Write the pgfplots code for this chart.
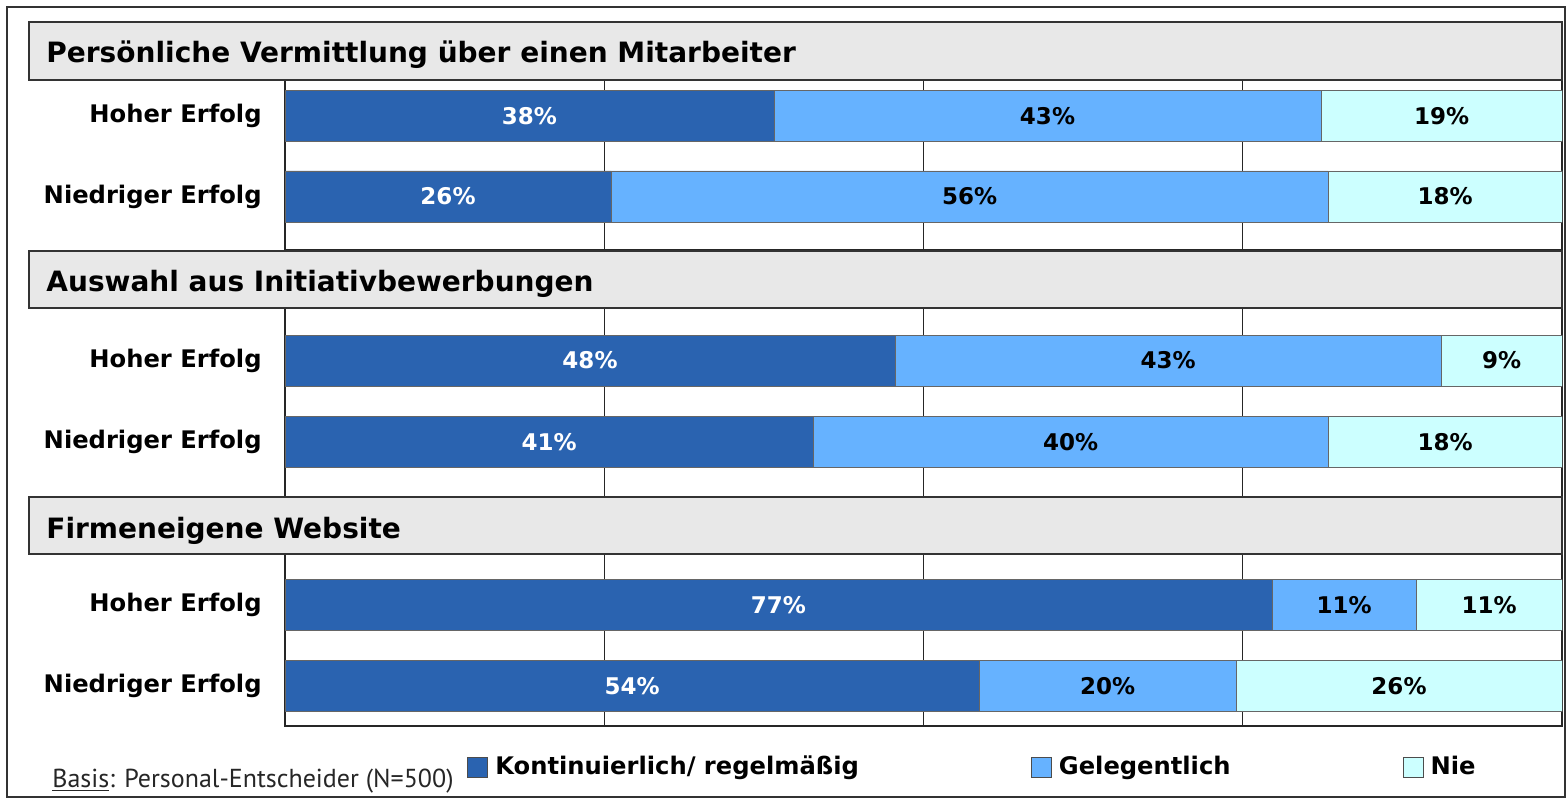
\documentclass[border=0pt]{standalone}
\usepackage{fontspec}
\setmainfont{DejaVu Sans}
\newfontfamily\basisfont{PT Sans}
\usepackage{pgfplots}
\pgfplotsset{compat=1.18}
\definecolor{cDark}{HTML}{2A63B0}
\definecolor{cMid}{HTML}{66B2FF}
\definecolor{cLight}{HTML}{CCFFFF}
\definecolor{cHead}{HTML}{E8E8E8}
\newcommand{\lblfont}{\fontsize{12.1}{15}\selectfont\bfseries}
\newcommand{\legfont}{\fontsize{12.1}{15}\selectfont\bfseries}
\pgfplotsset{grp/.style={
  xbar stacked, scale only axis, width=638.5pt, anchor=north west,
  xmin=0, xmax=100, enlargelimits=false,
  xtick={25,50,75}, xticklabels={}, xmajorgrids,
  grid style={black!85, line width=0.6pt},
  major tick length=0pt,
  axis line style={black!85, line width=0.6pt},
  bar width=51,
  yticklabels={Hoher Erfolg,Niedriger Erfolg},
  yticklabel style={font=\lblfont, inner sep=0pt, xshift=-11.5pt},
  every axis plot/.append style={draw=black!60, line width=0.4pt},
  visualization depends on=rawx \as \rawx,
  nodes near coords={\pgfmathprintnumber[fixed,precision=0,assume math mode=true]{\rawx}\%},
  every node near coord/.append style={anchor=center, font=\fontsize{11.5}{14}\selectfont\bfseries},
}}
\begin{document}
\begin{tikzpicture}
\useasboundingbox (0,0) rectangle (783.5pt,-401pt);
\draw[black!80, line width=0.8pt] (3.5pt,-3.5pt) rectangle (782.5pt,-398.5pt);

% Group 1
\begin{axis}[grp, at={(142.5pt,-40pt)}, height=85pt, ymin=-250, ymax=-80, ytick={-116,-196.5}]
\addplot[fill=cDark, every node near coord/.append style={text=white}] coordinates {(38.29,-116) (25.53,-196.5)};
\addplot[fill=cMid] coordinates {(42.84,-116) (56.15,-196.5)};
\addplot[fill=cLight] coordinates {(18.87,-116) (18.32,-196.5)};
\end{axis}

% Group 2
\begin{axis}[grp, at={(142.5pt,-154pt)}, height=94.5pt, ymin=-497, ymax=-308, ytick={-360.5,-442}]
\addplot[fill=cDark, every node near coord/.append style={text=white}] coordinates {(47.77,-360.5) (41.35,-442)};
\addplot[fill=cMid] coordinates {(42.76,-360.5) (40.33,-442)};
\addplot[fill=cLight] coordinates {(9.47,-360.5) (18.32,-442)};
\end{axis}

% Group 3
\begin{axis}[grp, at={(142.5pt,-277pt)}, height=86pt, ymin=-726, ymax=-554, ytick={-605,-686},
  legend columns=3,
  legend image code/.code={\draw[#1,draw=black!70,line width=0.5pt] (0pt,-5pt) rectangle (10pt,5pt);},
  legend style={at={(rel axis cs:0,0)}, anchor=west, xshift=91pt, yshift=-20.5pt,
    draw=none, fill=none, inner sep=0pt, font=\legfont,
    nodes={inner sep=0pt},
    /tikz/every odd column/.append style={column sep=3.5pt},
    /tikz/every even column/.append style={column sep=86pt}}]
\addplot[fill=cDark, every node near coord/.append style={text=white}] coordinates {(77.29,-605) (54.35,-686)};
\addplot[fill=cMid] coordinates {(11.28,-605) (20.12,-686)};
\addplot[fill=cLight] coordinates {(11.43,-605) (25.53,-686)};
\legend{Kontinuierlich/ regelmäßig, Gelegentlich, Nie}
\end{axis}

% Group headers
\draw[black!80, line width=0.7pt, fill=cHead] (14.5pt,-11pt) rectangle (781pt,-40pt);
\draw[black!80, line width=0.7pt, fill=cHead] (14.5pt,-125.5pt) rectangle (781pt,-154pt);
\draw[black!80, line width=0.7pt, fill=cHead] (14.5pt,-248.5pt) rectangle (781pt,-277pt);
\node[anchor=base west, inner sep=0pt, font=\fontsize{14}{18}\selectfont\bfseries] at (23pt,-31.5pt) {Persönliche Vermittlung über einen Mitarbeiter};
\node[anchor=base west, inner sep=0pt, font=\fontsize{14}{18}\selectfont\bfseries] at (23pt,-146pt) {Auswahl aus Initiativbewerbungen};
\node[anchor=base west, inner sep=0pt, font=\fontsize{14}{18}\selectfont\bfseries] at (23pt,-269pt) {Firmeneigene Website};

\node[anchor=base west, inner sep=0pt, text=black!85, font=\basisfont\fontsize{13}{15}\selectfont] at (26pt,-393.5pt) {\underline{Basis}: Personal-Entscheider (N=500)};
\end{tikzpicture}
\end{document}
